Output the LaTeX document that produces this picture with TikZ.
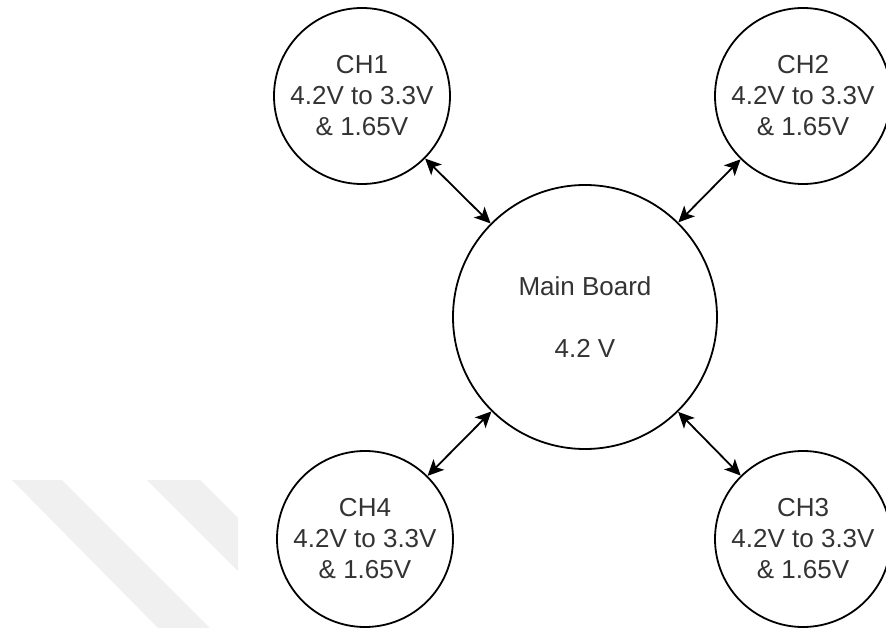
\documentclass[tikz,border=0pt]{standalone}
\usepackage{fontspec}
\setmainfont{Liberation Sans}
\usetikzlibrary{arrows.meta}
\definecolor{stripe}{HTML}{F0F0F0}
\definecolor{ink}{HTML}{333333}
\tikzset{
  board/.style={circle, draw=black, line width=1.8pt, fill=white, inner sep=0pt,
    minimum size=#1, align=center, text=ink,
    font=\fontsize{26}{31}\selectfont},
  link/.style={line width=1.8pt, {Stealth[length=16pt,width=15pt,inset=4pt]}-{Stealth[length=16pt,width=15pt,inset=4pt]}},
}
\begin{document}
\begin{tikzpicture}[x=1pt,y=-1pt]
  \useasboundingbox (0,0) rectangle (886,628);
  \clip (0,0) rectangle (886,628);
  \fill[white] (0,0) rectangle (886,628);

  % faint diagonal stripes in the lower left corner
  \fill[stripe] (12,480) -- (62,480) -- (210,628) -- (158,628) -- cycle;
  \fill[stripe] (147,480) -- (200,480) -- (238,518) -- (238,571) -- cycle;

  % the main board and its four channels
  \node[board=264pt] (main) at (585,317) {Main Board\\[31pt]4.2 V};
  \node[board=176pt] (ch1) at (362,96)  {CH1\\4.2V to 3.3V\\\& 1.65V};
  \node[board=176pt] (ch2) at (803,96)  {CH2\\4.2V to 3.3V\\\& 1.65V};
  \node[board=176pt] (ch3) at (803,539) {CH3\\4.2V to 3.3V\\\& 1.65V};
  \node[board=176pt] (ch4) at (365,539) {CH4\\4.2V to 3.3V\\\& 1.65V};

  % two-way links
  \draw[link] (ch1) -- (main);
  \draw[link] (ch2) -- (main);
  \draw[link] (ch3) -- (main);
  \draw[link] (ch4) -- (main);
\end{tikzpicture}
\end{document}
